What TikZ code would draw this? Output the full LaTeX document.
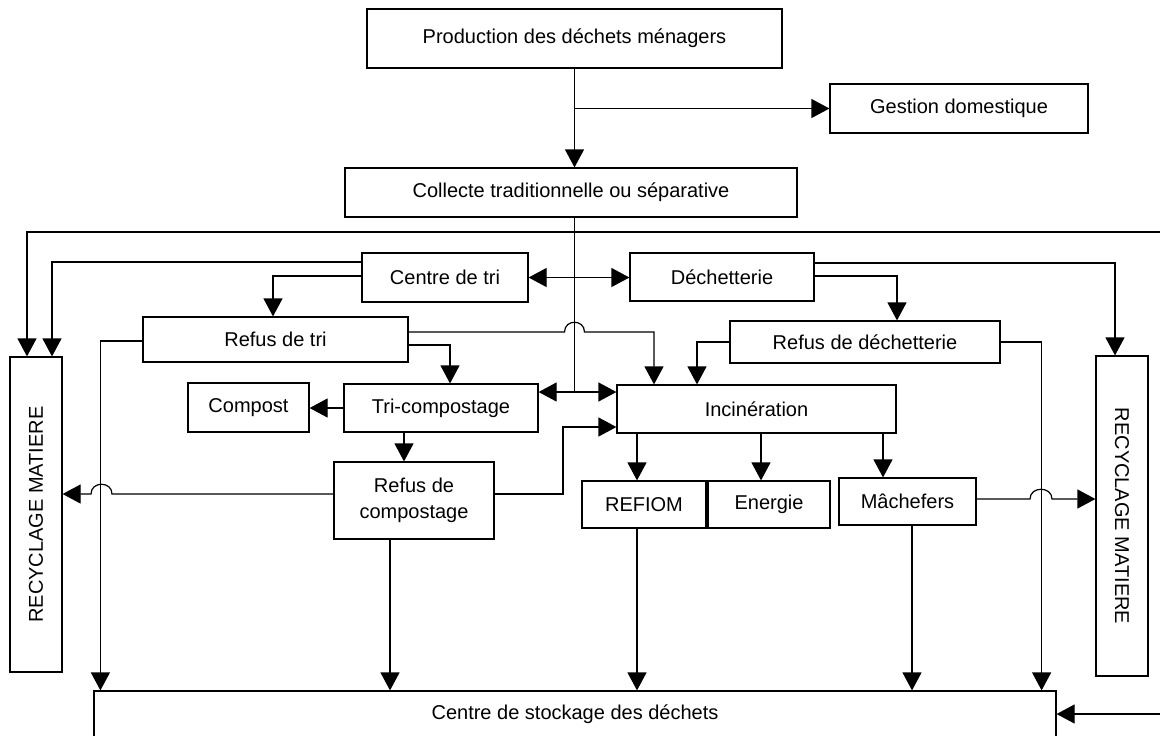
\documentclass[tikz,border=0pt]{standalone}
\usepackage{fontspec}
\setmainfont{Liberation Sans}
\usetikzlibrary{arrows.meta,calc}
\begin{document}
\begin{tikzpicture}[x=0.5pt,y=-0.5pt,
  txt/.style={font=\fontsize{10}{13}\selectfont},
  box/.style={draw,line width=0.6pt,inner sep=0pt,txt,align=center},
  conn/.style={line width=0.6pt},
  arr/.style={conn,-{Triangle[length=9pt,width=9.5pt]}},
  dbl/.style={conn,{Triangle[length=9pt,width=9.5pt]}-{Triangle[length=9pt,width=9.5pt]}}]
\useasboundingbox (0,0) rectangle (1160,735);
% boxes
\node[box,minimum width=207.5pt,minimum height=29.5pt] (prod) at (574.5,38.5) {Production des déchets ménagers};
\node[box,minimum width=129pt,minimum height=24.5pt] (gest) at (959,108.5) {Gestion domestique};
\node[box,minimum width=226pt,minimum height=24.5pt] (coll) at (571,192.5) {Collecte traditionnelle ou séparative};
\node[box,minimum width=83pt,minimum height=24.5pt] (ctri) at (445,277.5) {Centre de tri};
\node[box,minimum width=92pt,minimum height=24pt] (dech) at (722,277) {Déchetterie};
\node[box,minimum width=132.5pt,minimum height=22.5pt] (rtri) at (275.5,339.5) {Refus de tri};
\node[box,minimum width=135pt,minimum height=21pt] (rdech) at (865,342) {Refus de déchetterie};
\node[box,minimum width=60.5pt,minimum height=24.5pt] (compost) at (248.5,407.5) {Compost};
\node[box,minimum width=97pt,minimum height=24pt] (tric) at (441,408) {Tri-compostage};
\node[box,minimum width=139.5pt,minimum height=24pt] (incin) at (756.5,409) {Incinération};
\node[box,minimum width=80pt,minimum height=38.5pt] (rcomp) at (414,500.5) {Refus de\\compostage};
\node[box,minimum width=62pt,minimum height=23.5pt] (refiom) at (644,504.5) {REFIOM};
\node[box,minimum width=61pt,minimum height=23.5pt] (energie) at (769,504.5) {Energie};
\node[box,minimum width=68.5pt,minimum height=23.5pt] (mach) at (907.5,501.5) {Mâchefers};
\node[box,minimum width=26pt,minimum height=157.5pt,label={[rotate=90,txt]center:RECYCLAGE MATIERE}] (recL) at (36,514.5) {};
\node[box,minimum width=26pt,minimum height=160pt,label={[rotate=-90,txt]center:RECYCLAGE MATIERE}] (recR) at (1122,516) {};
\node[box,minimum width=481pt,minimum height=23pt] (stock) at (575,714) {Centre de stockage des déchets};
% free ends and helper points
\coordinate (j) at (574.5,392);
\coordinate (rt) at (1160,232);
\coordinate (rb) at (1160,714);
\coordinate (ts) at ($(tric.south)+(-37,0)$);
\coordinate (rcw) at ($(rcomp.west)+(0,-6.5)$);
\coordinate (rcs) at ($(rcomp.south)+(-24,0)$);
\coordinate (ia) at ($(incin.south)+(-119.5,0)$);
\coordinate (ib) at ($(incin.south)+(4.5,0)$);
\coordinate (ic) at ($(incin.south)+(126.5,0)$);
\coordinate (ra) at ($(refiom.south)+(-7,0)$);
\coordinate (ma) at ($(mach.south)+(4.5,0)$);
\coordinate (me) at ($(mach.east)+(0,-2.5)$);
% connectors
\draw[arr] (prod.south) -- (prod.south |- coll.north);
\draw[arr] (prod.south |- gest.west) -- (gest.west);
\draw[conn] (prod.south |- coll.south) -- (j);
\draw[arr] (j) -- (j -| tric.east);
\draw[arr] (j) -- (j -| incin.west);
\draw[dbl] (ctri.east) -- (ctri.east -| dech.west);
\draw[arr] (rt) -| ($(recL.north)+(-9,0)$);
\draw[arr] ($(ctri.west)+(0,-15.5)$) -| ($(recL.north)+(16,0)$);
\draw[arr] ($(ctri.west)+(0,-1.5)$) -| ($(rtri.north)+(-2.5,0)$);
\draw[arr] ($(rtri.east)+(0,-7.5)$) -- (564.5,332) .. controls (564.5,319) and (584.5,319) .. (584.5,332) -| ($(incin.north)+(-102.5,0)$);
\draw[arr] ($(rtri.east)+(0,5.5)$) -| ($(tric.north)+(9,0)$);
\draw[arr] ($(rtri.west)+(0,1.5)$) -| ($(stock.north west)+(7,0)$);
\draw[arr] (tric.west) -- (tric.west -| compost.east);
\draw[arr] (ts) -- (ts |- rcomp.north);
\draw[arr] (rcw) -- (112,494) .. controls (112,481) and (91,481) .. (91,494) -- (recL.east |- rcw);
\draw[arr] ($(rcomp.east)+(0,-6.5)$) -- (563,494) |- ($(incin.west)+(0,18)$);
\draw[arr] (rcs) -- (rcs |- stock.north);
\draw[arr] ($(dech.east)+(0,-14)$) -| ($(recR.north)+(-7,0)$);
\draw[arr] ($(dech.east)+(0,-1)$) -| ($(rdech.north)+(32,0)$);
\draw[arr] (rdech.west) -| ($(incin.north)+(-59.5,0)$);
\draw[arr] (rdech.east) -| ($(stock.north east)+(-15,0)$);
\draw[arr] (ia) -- (ia |- refiom.north);
\draw[arr] (ib) -- (ib |- energie.north);
\draw[arr] (ic) -- (ic |- mach.north);
\draw[arr] (ra) -- (ra |- stock.north);
\draw[arr] (ma) -- (ma |- stock.north);
\draw[arr] (me) -- (1030,499) .. controls (1030,486) and (1052,486) .. (1052,499) -- (recR.west |- me);
\draw[arr] (rb) -- (stock.east |- rb);
\end{tikzpicture}
\end{document}
